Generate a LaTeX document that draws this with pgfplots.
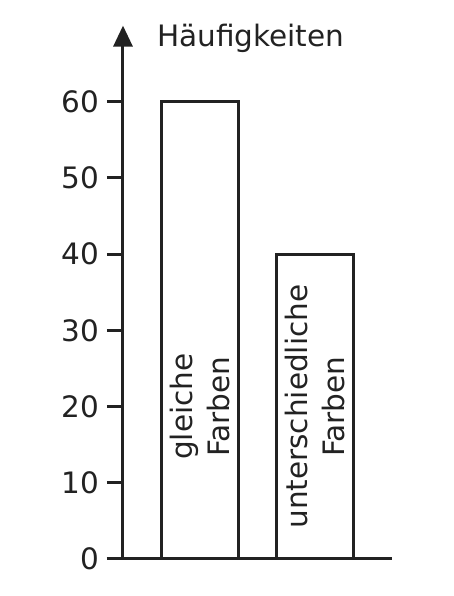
\documentclass[border=0pt]{standalone}
\usepackage{fontspec}
\setmainfont{DejaVu Sans}
\usepackage{pgfplots}
\pgfplotsset{compat=1.18}
\usetikzlibrary{arrows.meta}
\definecolor{ink}{RGB}{34,34,34}
\newcommand\chartfont{\fontsize{29.5bp}{37bp}\selectfont}

\begin{document}
\begin{tikzpicture}
\begin{axis}[
    x=1bp, y=7.62bp,
    xmin=123, xmax=392,
    ymin=0, ymax=70,
    clip=false,
    axis x line*=bottom,
    axis y line*=left,
    x axis line style={-, line width=3bp, draw=ink, shorten <=-16bp},
    y axis line style={-{Triangle[width=19bp,length=21bp]}, line width=3bp, draw=ink},
    xtick=\empty,
    ytick={0,10,...,60},
    tick align=outside,
    major tick length=16bp,
    every tick/.style={line width=3bp, draw=ink},
    /pgf/number format/assume math mode=true,
    yticklabel style={font=\chartfont, text=ink, anchor=east, inner sep=0pt, xshift=-8bp},
]
\addplot[ybar, bar width=77bp, fill=white, draw=ink, line width=3bp]
    coordinates {(199.7,60) (315,40)};
\node[rotate=90, align=center, font=\chartfont, text=ink] at (axis cs:199.7,20) {gleiche\\Farben};
\node[rotate=90, align=center, font=\chartfont, text=ink] at (axis cs:315,20) {unterschiedliche\\Farben};
\node[anchor=base west, font=\chartfont, text=ink, inner sep=0pt] at (axis cs:157,67.25) {Häufigkeiten};
\coordinate (bl) at (axis cs:0,-4.856);
\coordinate (tr) at (axis cs:454,73.36);
\end{axis}
\pgfresetboundingbox
\path[use as bounding box] (bl) rectangle (tr);
\end{tikzpicture}
\end{document}
